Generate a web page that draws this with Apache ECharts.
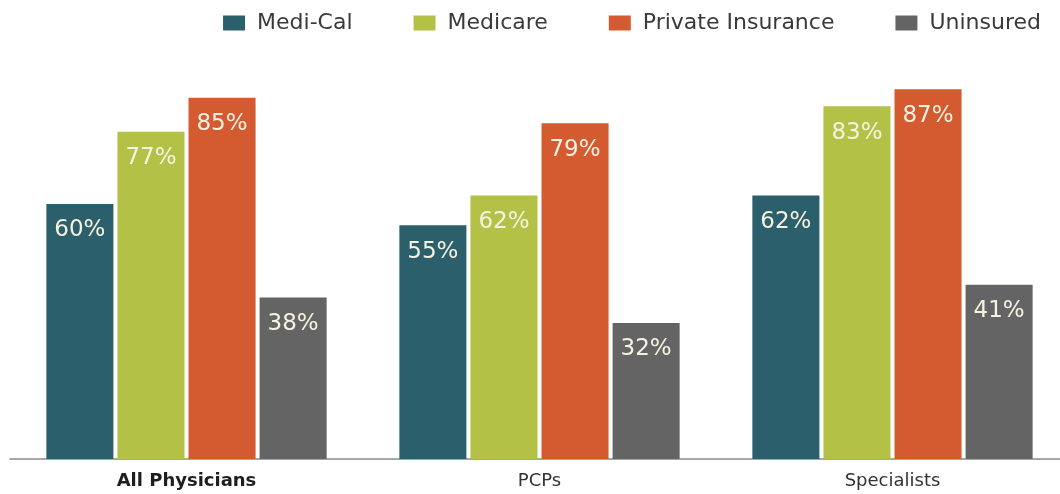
<!DOCTYPE html>
<html>
<head>
<meta charset="utf-8">
<script src="https://cdn.jsdelivr.net/npm/echarts@6/dist/echarts.min.js"></script>
<style>html,body{margin:0;padding:0;background:#fff;overflow:hidden}#c{width:1069px;height:494px}</style>
</head>
<body>
<div id="c"></div>
<script>
const categories = ['All Physicians', 'PCPs', 'Specialists'];
const seriesNames = ['Medi-Cal', 'Medicare', 'Private Insurance', 'Uninsured'];
const mediCal = [60, 55, 62];
const medicare = [77, 62, 83];
const privateIns = [85, 79, 87];
const uninsured = [38, 32, 41];
const colors = ['#2a5f6b', '#b3c146', '#d45a30', '#646464'];

const values = [mediCal, medicare, privateIns, uninsured];
const chart = echarts.init(document.getElementById('c'));
const font = '"DejaVu Sans", "Open Sans", sans-serif';
chart.setOption({
  animation: false,
  color: colors,
  legend: {
    top: 7,
    right: 23,
    itemWidth: 22,
    itemHeight: 15,
    itemGap: 61,
    icon: 'rect',
    textStyle: { fontSize: 22, color: '#3a3a3a', fontFamily: font, padding: [0, 0, 0, 7] },
    data: seriesNames
  },
  grid: { left: 10, right: 0, top: 34, bottom: 35 },
  xAxis: {
    type: 'category',
    data: categories.map((c, i) => i === 0 ? { value: c, textStyle: { fontWeight: 'bold', color: '#1e1e1e' } } : c),
    axisLine: { lineStyle: { color: '#8a8a8a', width: 1.5 } },
    axisTick: { show: false },
    axisLabel: { fontSize: 18, color: '#333', fontFamily: font, margin: 13 }
  },
  yAxis: { type: 'value', min: 0, max: 100, show: false, splitLine: { show: false } },
  series: seriesNames.map((n, i) => ({
    name: n,
    type: 'bar',
    data: values[i],
    barGap: '6%',
    barCategoryGap: '20.6%',
    label: {
      show: true,
      position: 'insideTop',
      distance: 15,
      formatter: '{c}%',
      color: '#f6f2e2',
      fontSize: 23,
      fontFamily: font
    }
  }))
});
</script>
</body>
</html>
